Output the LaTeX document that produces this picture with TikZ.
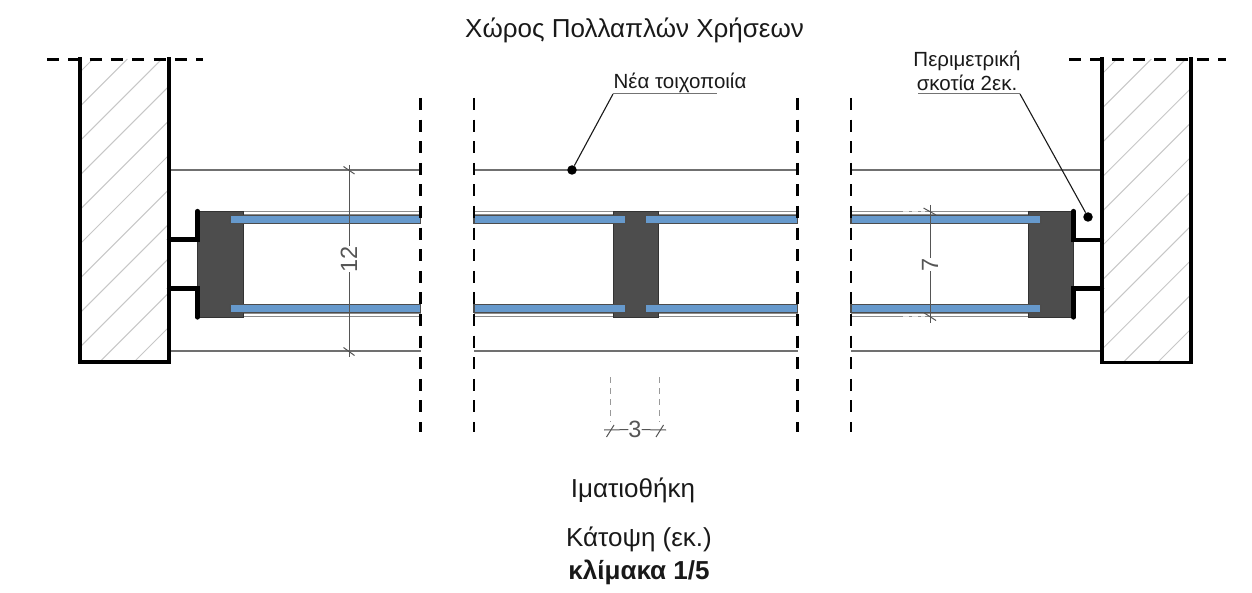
\documentclass[tikz,border=0pt]{standalone}
\usepackage{fontspec}
\setmainfont{Liberation Sans}
\definecolor{blockgray}{HTML}{4D4D4D}
\definecolor{panelblue}{HTML}{6699CC}
\definecolor{thingray}{HTML}{707070}
\definecolor{dimgray}{HTML}{555555}
\tikzset{
  wallline/.style={line width=3.6pt,line cap=rect,black},
  hatchline/.style={line width=1pt,draw=black!22},
  levelline/.style={line width=1.3pt,draw=thingray},
  skinline/.style={line width=1pt,draw=black!45},
  skingap/.style={line width=1.2pt,draw=white,opacity=0.7,dash pattern=on 6pt off 3pt},
  breakline/.style={line width=2.3pt,black,dash pattern=on 12pt off 9.6pt},
  topline/.style={line width=2.3pt,black,dash pattern=on 12pt off 9.3pt},
  block/.style={fill=blockgray,draw=black!80,line width=0.8pt},
  panel/.style={fill=panelblue,draw=black!70,line width=1.3pt},
  fixing/.style={line width=4.2pt,black,line cap=round},
  dimline/.style={line width=1pt,draw=dimgray},
  extline/.style={line width=0.8pt,draw=black!40,dash pattern=on 6pt off 5pt},
  leader/.style={line width=1.1pt,draw=black!90},
  leaderbar/.style={line width=1pt,draw=black!55},
  dotmark/.style={circle,fill=black,inner sep=0pt,minimum size=9.5pt},
  lab/.style={inner sep=0pt,font=\fontsize{#1}{#1}\selectfont,text=black!90},
  dimtext/.style={inner sep=0pt,font=\fontsize{23.5}{23.5}\selectfont,text=dimgray,fill=none},
}
\begin{document}
\begin{tikzpicture}[x=1pt,y=-1pt]
\useasboundingbox (0,0) rectangle (1252,593);
% --- hatching
\begin{scope}
  \clip (80,59) rectangle (169,362);
  \foreach \s in {152.0,186.4,...,540} \draw[hatchline] (\s-59,59) -- (\s-362,362);
\end{scope}
\begin{scope}
  \clip (1102,59) rectangle (1191,362);
  \foreach \s in {1176.0,1210.4,...,1560} \draw[hatchline] (\s-59,59) -- (\s-362,362);
\end{scope}
% --- level lines
\foreach \a/\b in {169/420.5,474/797.5,851/1102} {
  \draw[levelline] (\a,170) -- (\b,170);
  \draw[levelline] (\a,351) -- (\b,351);
}
% --- skins
\foreach \a/\b in {243/420.5,474/613,658/797.5,851/1028} \foreach \y in {211.5,214.5,313.5,317} \draw[skinline] (\a,\y) -- (\b,\y);
\draw[skingap] (903,211.5) -- (925,211.5);
\draw[skingap] (903,317) -- (925,317);
% --- blocks
\draw[block] (197.5,211) rectangle (243,317.5);
\draw[block] (613,211) rectangle (658,317.5);
\draw[block] (1028.5,211) rectangle (1073.5,317.5);
% --- panels
\foreach \y/\z in {215.7/223.5,304.5/312.3} {
  \draw[panel] (230,\y) rectangle (420.5,\z);
  \draw[panel] (474,\y) rectangle (626,\z);
  \draw[panel] (645,\y) rectangle (797.5,\z);
  \draw[panel] (851,\y) rectangle (1041,\z);
}
% --- fixings
\draw[fixing] (197.5,211) -- (197.5,239.5) -- (169,239.5);
\draw[fixing] (197.5,317.5) -- (197.5,288.5) -- (169,288.5);
\draw[fixing] (1073.5,211) -- (1073.5,240) -- (1102,240);
\draw[fixing] (1073.5,317.5) -- (1073.5,288.5) -- (1102,288.5);
% --- walls
\draw[wallline] (80,59) -- (80,362) -- (169,362) -- (169,59);
\draw[wallline] (1102,59) -- (1102,362.5) -- (1191,362.5) -- (1191,59);
\draw[topline] (47,59.5) -- (203,59.5);
\draw[topline] (1069,59.5) -- (1226,59.5);
% --- break lines
\foreach \x in {420.5,474,797.5,851} \draw[breakline] (\x,98) -- (\x,432);
% --- dimensions
\node[dimtext,rotate=90] (d12) at (349,259) {12};
\coordinate (d12a) at (349,165);
\coordinate (d12b) at (349,357);
\draw[dimline] (d12a) -- (d12);
\draw[dimline] (d12) -- (d12b);
\draw[dimline] (343.5,166.5) -- (354.5,174);
\draw[dimline] (343.5,347.5) -- (354.5,355.5);
\node[dimtext,rotate=90] (d7) at (930,264.5) {7};
\coordinate (d7a) at (930,205);
\coordinate (d7b) at (930,323);
\draw[dimline] (d7a) -- (d7);
\draw[dimline] (d7) -- (d7b);
\draw[dimline] (923.5,208) -- (936,215);
\draw[dimline] (923.5,312.5) -- (936,320.5);
\node[dimtext] (d3) at (635,429.5) {3};
\coordinate (d3a) at (604,430);
\coordinate (d3b) at (666,430);
\draw[dimline] (d3a) -- (d3);
\draw[dimline] (d3) -- (d3b);
\draw[dimline] (606.5,437) -- (614,425);
\draw[dimline] (656,437) -- (663.5,425);
\draw[extline] (610,377) -- (610,422);
\draw[extline] (659.5,377) -- (659.5,422);
% --- leaders
\node[dotmark] (dotA) at (572,170) {};
\coordinate (barA) at (613,94);
\coordinate (barAe) at (717,94);
\draw[leaderbar] (barA) -- (barAe);
\draw[leader] (barA) -- (dotA);
\node[dotmark] (dotB) at (1088,217) {};
\coordinate (barB) at (1020,94);
\coordinate (barBe) at (918,94);
\draw[leaderbar] (barB) -- (barBe);
\draw[leader] (barB) -- (dotB);
% --- labels
\node[lab=26] (title) at (634.5,30) {Χώρος Πολλαπλών Χρήσεων};
\node[lab=20.5] (wallnew) at (680,83) {Νέα τοιχοποιία};
\node[lab=20.5] (skotA) at (967,60.5) {Περιμετρική};
\node[lab=20.5] (skotB) at (967,83) {σκοτία 2εκ.};
\node[lab=26] (closet) at (633,490) {Ιματιοθήκη};
\node[lab=26] (plan) at (639,539) {Κάτοψη (εκ.)};
\node[lab=26,font=\fontsize{26}{26}\selectfont\bfseries] (scale) at (639,572.5) {κλίμακα 1/5};
\end{tikzpicture}
\end{document}
